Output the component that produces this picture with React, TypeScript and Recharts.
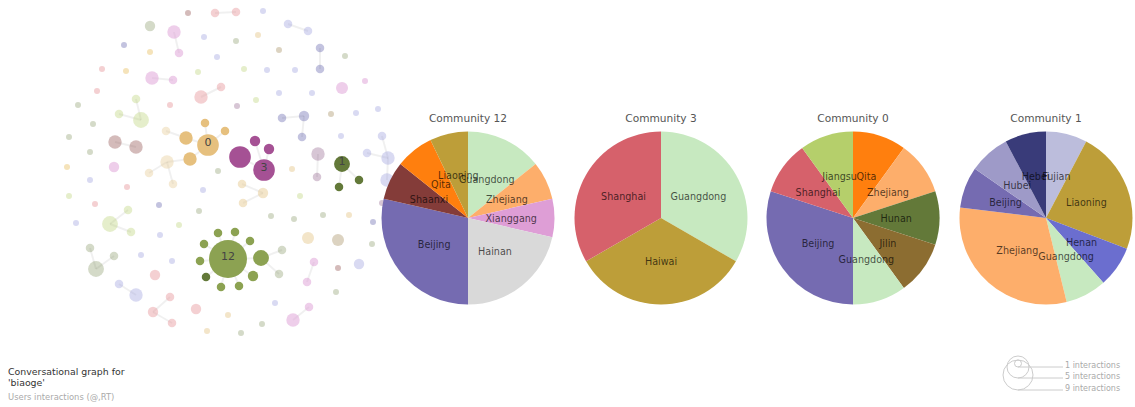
import React from "react"
import { ScatterChart, Scatter, XAxis, YAxis, ZAxis, PieChart, Pie, Cell } from "recharts"

const W = 1135
const H = 407
const FONT = "DejaVu Sans, Verdana, sans-serif"

// network layout: [id, x, y, interactions, group, label]
const nodeRows: [number, number, number, number, string, string?][] = [
  [1, 188, 13, 1, "rose"], [2, 215, 13, 2, "pink"], [3, 236, 12, 2, "pink"], [4, 263, 11, 1, "lavender"],
  [5, 150, 26, 3, "sage"], [6, 174, 32, 5, "lilac"], [7, 179, 53, 2, "lilac"], [8, 204, 37, 1, "lavender"],
  [9, 124, 45, 1, "grayblue"], [10, 150, 52, 1, "gold"], [11, 236, 41, 1, "sage"], [12, 258, 35, 1, "peach"],
  [13, 217, 57, 1, "lavender"], [14, 288, 24, 2, "lavender"], [15, 308, 31, 2, "lavender"], [16, 320, 48, 2, "grayblue"],
  [17, 320, 69, 2, "grayblue"], [18, 345, 56, 1, "sage"], [19, 279, 50, 1, "tan"], [20, 102, 69, 1, "pink"],
  [21, 126, 71, 1, "gold"], [22, 152, 78, 5, "lilac"], [23, 173, 80, 2, "lilac"], [24, 198, 72, 1, "cgreen"],
  [25, 244, 69, 1, "cgreen"], [26, 267, 70, 1, "lavender"], [27, 295, 70, 1, "lavender"], [28, 97, 91, 1, "pink"],
  [29, 201, 97, 5, "pink"], [30, 221, 87, 2, "pink"], [31, 342, 88, 4, "lilac"], [32, 365, 81, 1, "lilac"],
  [33, 78, 105, 1, "sage"], [34, 93, 124, 1, "sage"], [35, 136, 99, 2, "cgreen"], [36, 119, 114, 2, "cgreen"],
  [37, 141, 120, 7, "cgreen"], [38, 170, 105, 1, "pink"], [39, 237, 106, 1, "dlilac"], [40, 256, 100, 1, "cgreen"],
  [41, 279, 93, 1, "lavender"], [42, 312, 93, 1, "lavender"], [43, 282, 118, 2, "grayblue"], [44, 304, 116, 3, "grayblue"],
  [45, 302, 137, 2, "grayblue"], [46, 331, 114, 1, "tan"], [47, 356, 113, 1, "lavender"], [48, 378, 109, 1, "lavender"],
  [49, 69, 137, 1, "sage"], [50, 90, 152, 1, "sage"], [51, 115, 142, 5, "rose"], [52, 136, 147, 5, "rose"],
  [53, 166, 131, 2, "cream"], [54, 186, 138, 5, "c0"], [55, 205, 123, 2, "c0"], [56, 225, 131, 2, "c0"],
  [57, 208, 145, 13, "c0", "0"], [58, 190, 159, 5, "c0"], [59, 167, 162, 5, "cream"], [60, 149, 173, 2, "cream"],
  [61, 173, 184, 2, "cream"], [62, 218, 171, 1, "sage"], [63, 255, 141, 3, "c3"], [64, 269, 149, 3, "c3"],
  [65, 240, 157, 13, "c3"], [66, 264, 170, 13, "c3", "3"], [67, 292, 169, 1, "peach"], [68, 318, 154, 5, "dlilac"],
  [69, 317, 177, 2, "dlilac"], [70, 341, 136, 1, "lavender"], [71, 342, 164, 7, "c1", "1"], [72, 339, 187, 2, "c1"],
  [73, 359, 180, 2, "c1"], [74, 382, 136, 2, "lavender"], [75, 367, 153, 2, "lavender"], [76, 388, 158, 5, "lavender"],
  [77, 387, 180, 5, "lavender"], [78, 382, 203, 1, "dlilac"], [79, 373, 222, 1, "grayblue"], [80, 372, 244, 1, "sage"],
  [81, 67, 167, 1, "gold"], [82, 114, 167, 3, "lilac"], [83, 90, 180, 1, "lavender"], [84, 127, 187, 1, "pink"],
  [85, 69, 196, 1, "cgreen"], [86, 95, 204, 1, "pink"], [87, 76, 223, 1, "lavender"], [88, 159, 205, 1, "grayblue"],
  [89, 203, 190, 1, "lavender"], [90, 242, 184, 2, "peach"], [91, 263, 193, 3, "peach"], [92, 243, 203, 2, "peach"],
  [93, 199, 211, 1, "sage"], [94, 300, 196, 1, "cgreen"], [95, 271, 216, 1, "sage"], [96, 294, 219, 1, "sage"],
  [97, 323, 215, 1, "sage"], [98, 349, 215, 1, "peach"], [99, 128, 210, 2, "cgreen"], [100, 110, 224, 7, "cgreen"],
  [101, 131, 232, 2, "cgreen"], [102, 179, 225, 1, "cgreen"], [103, 160, 235, 1, "lavender"], [104, 308, 238, 4, "peach"],
  [105, 338, 240, 4, "tan"], [106, 90, 248, 2, "sage"], [107, 114, 256, 2, "sage"], [108, 96, 269, 7, "sage"],
  [109, 141, 255, 1, "lavender"], [110, 172, 261, 1, "lavender"], [111, 228, 259, 40, "c12", "12"],
  [112, 218, 233, 2, "c12"], [113, 235, 232, 2, "c12"], [114, 250, 241, 2, "c12"], [115, 204, 244, 2, "c12"],
  [116, 200, 261, 2, "c12"], [117, 206, 277, 2, "c12b"], [118, 221, 287, 2, "c12"], [119, 239, 286, 2, "c12"],
  [120, 253, 276, 3, "c12"], [121, 261, 258, 7, "c12"], [122, 282, 250, 2, "sage"], [123, 279, 274, 2, "sage"],
  [124, 359, 264, 3, "lavender"], [125, 314, 262, 2, "lilac"], [126, 307, 282, 2, "lilac"], [127, 338, 268, 1, "rose"],
  [128, 119, 284, 2, "lavender"], [129, 136, 295, 5, "lavender"], [130, 155, 275, 3, "pink"], [131, 170, 297, 2, "pink"],
  [132, 153, 312, 3, "pink"], [133, 172, 323, 2, "pink"], [134, 196, 309, 3, "pink"], [135, 275, 303, 1, "lavender"],
  [136, 336, 292, 1, "sage"], [137, 228, 315, 1, "peach"], [138, 207, 331, 1, "peach"], [139, 241, 333, 1, "sage"],
  [140, 262, 324, 1, "sage"], [141, 293, 320, 5, "lilac"], [142, 309, 307, 2, "lilac"],
]

const links: [number, number][] = [
  [2, 3], [6, 7], [14, 15], [16, 17], [22, 23], [29, 30], [35, 37], [36, 37], [43, 44], [44, 45],
  [51, 52], [53, 54], [54, 57], [55, 57], [56, 57], [58, 57], [59, 58], [59, 60], [59, 61],
  [63, 66], [64, 66], [65, 66], [68, 69], [71, 72], [71, 73], [75, 76], [74, 76], [76, 77],
  [90, 91], [92, 91], [99, 100], [101, 100], [106, 108], [107, 108],
  [112, 111], [113, 111], [114, 111], [115, 111], [116, 111], [117, 111], [118, 111], [119, 111], [120, 111], [121, 111],
  [121, 122], [121, 123], [125, 126], [128, 129], [131, 132], [133, 132], [141, 142],
]

const community12 = [
  { name: "Guangdong", value: 2 }, { name: "Zhejiang", value: 1 }, { name: "Xianggang", value: 1 },
  { name: "Hainan", value: 3 }, { name: "Beijing", value: 4 }, { name: "Shaanxi", value: 1 },
  { name: "Qita", value: 1 }, { name: "Liaoning", value: 1 },
]
const community3 = [
  { name: "Guangdong", value: 1 }, { name: "Haiwai", value: 1 }, { name: "Shanghai", value: 1 },
]
const community0 = [
  { name: "Qita", value: 1 }, { name: "Zhejiang", value: 1 }, { name: "Hunan", value: 1 },
  { name: "Jilin", value: 1 }, { name: "Guangdong", value: 1 }, { name: "Beijing", value: 3 },
  { name: "Shanghai", value: 1 }, { name: "Jiangsu", value: 1 },
]
const community1 = [
  { name: "Fujian", value: 1 }, { name: "Liaoning", value: 3 }, { name: "Henan", value: 1 },
  { name: "Guangdong", value: 1 }, { name: "Zhejiang", value: 4 }, { name: "Beijing", value: 1 },
  { name: "Hubei", value: 1 }, { name: "Hebei", value: 1 },
]

const legendSizes = [1, 5, 9]

const PROVINCE_COLORS: Record<string, string> = {
  Guangdong: "#c7e9c0", Zhejiang: "#fdae6b", Xianggang: "#de9ed6", Hainan: "#d9d9d9",
  Beijing: "#756bb1", Shaanxi: "#843c39", Qita: "#ff7f0e", Liaoning: "#bd9e39",
  Haiwai: "#bd9e39", Shanghai: "#d6616b", Jiangsu: "#b5cf6b", Hunan: "#637939",
  Jilin: "#8c6d31", Fujian: "#bcbddc", Henan: "#6b6ecf", Hubei: "#9e9ac8", Hebei: "#393b79",
}

const GROUP_STYLE: Record<string, { fill: string; opacity: number }> = {
  pink: { fill: "#e7969c", opacity: 0.45 },
  lilac: { fill: "#de9ed6", opacity: 0.5 },
  lavender: { fill: "#9c9ede", opacity: 0.38 },
  sage: { fill: "#637939", opacity: 0.28 },
  tan: { fill: "#8c6d31", opacity: 0.3 },
  gold: { fill: "#e7ba52", opacity: 0.4 },
  peach: { fill: "#e7cb94", opacity: 0.5 },
  grayblue: { fill: "#5254a3", opacity: 0.35 },
  rose: { fill: "#843c39", opacity: 0.35 },
  cgreen: { fill: "#b5cf6b", opacity: 0.35 },
  cream: { fill: "#e7cb94", opacity: 0.4 },
  dlilac: { fill: "#7b4173", opacity: 0.3 },
  c0: { fill: "#e6c07e", opacity: 1 },
  c3: { fill: "#a55194", opacity: 1 },
  c1: { fill: "#637939", opacity: 1 },
  c12: { fill: "#8ca252", opacity: 1 },
  c12b: { fill: "#637939", opacity: 1 },
}

const nodes = nodeRows.map(([id, x, y, w, g, label]) => ({ id, x, y, w, g, label }))
const byId = new Map(nodes.map((n) => [n.id, n]))
const linkData = links.map(([a, b]) => [byId.get(a)!, byId.get(b)!])

const PIES = [
  { title: "Community 12", data: community12, cx: 468 },
  { title: "Community 3", data: community3, cx: 661 },
  { title: "Community 0", data: community0, cx: 853 },
  { title: "Community 1", data: community1, cx: 1046 },
]
const PIE_CY = 218
const PIE_R = 86.5

const NodeShape = (props: any) => {
  const p = props.payload || props
  const st = GROUP_STYLE[p.g] || GROUP_STYLE.lavender
  const r = (props.width ?? 6) / 2
  return (
    <g>
      <circle cx={props.cx} cy={props.cy} r={r} fill={st.fill} fillOpacity={st.opacity} />
      {p.label && (
        <text x={props.cx} y={props.cy + 1} textAnchor="middle" fontSize={11} fontFamily={FONT} fill="#444">
          {p.label}
        </text>
      )}
    </g>
  )
}

const RAD = Math.PI / 180
const renderPieLabel = (p: any) => {
  const r = p.outerRadius * 0.5
  const x = p.cx + r * Math.cos(-p.midAngle * RAD)
  const y = p.cy + r * Math.sin(-p.midAngle * RAD)
  const name = p.name ?? p.payload?.name
  return (
    <text x={x} y={y} textAnchor="middle" dominantBaseline="central" fontSize={9.6} fontFamily={FONT} fill="#000" fillOpacity={0.68}>
      {name}
    </text>
  )
}

export default function App() {
  return (
    <div style={{ position: "absolute", left: 0, top: 0, width: W, height: H, background: "#fff", overflow: "hidden" }}>
      {/* network */}
      <div style={{ position: "absolute", left: 0, top: 0 }}>
        <ScatterChart width={W} height={H} margin={{ top: 0, right: 0, bottom: 0, left: 0 }}>
          <XAxis type="number" dataKey="x" domain={[0, W]} hide />
          <YAxis type="number" dataKey="y" domain={[0, H]} reversed hide />
          <ZAxis type="number" dataKey="w" domain={[1, 40]} range={[9 * Math.PI, 360 * Math.PI]} />
          {linkData.map((d, i) => (
            <Scatter
              key={`l${i}`}
              data={d}
              line={{ stroke: "#000", strokeOpacity: 0.06, strokeWidth: 2 }}
              shape={() => <g />}
              isAnimationActive={false}
            />
          ))}
          <Scatter data={nodes} shape={NodeShape} isAnimationActive={false} />
        </ScatterChart>
      </div>

      {/* community pies */}
      <div style={{ position: "absolute", left: 0, top: 0 }}>
        <PieChart width={W} height={H} margin={{ top: 0, right: 0, bottom: 0, left: 0 }}>
          {PIES.map((pie) => (
            <Pie
              key={pie.title}
              data={pie.data}
              dataKey="value"
              nameKey="name"
              cx={pie.cx}
              cy={PIE_CY}
              outerRadius={PIE_R}
              startAngle={90}
              endAngle={-270}
              stroke="none"
              labelLine={false}
              label={renderPieLabel}
              isAnimationActive={false}
            >
              {pie.data.map((d, i) => (
                <Cell key={i} fill={PROVINCE_COLORS[d.name]} />
              ))}
            </Pie>
          ))}
        </PieChart>
      </div>

      {/* titles, caption and size legend */}
      <svg width={W} height={H} style={{ position: "absolute", left: 0, top: 0, pointerEvents: "none" }}>
        {PIES.map((pie) => (
          <text key={pie.title} x={pie.cx} y={118} textAnchor="middle" dominantBaseline="central" fontSize={10.6} fontFamily={FONT} fill="#555">
            {pie.title}
          </text>
        ))}
        <text x={8} y={371} dominantBaseline="central" fontSize={9.4} fontFamily={FONT} fill="#333">Conversational graph for</text>
        <text x={8} y={382} dominantBaseline="central" fontSize={9.4} fontFamily={FONT} fill="#333">'biaoge'</text>
        <text x={8} y={397} dominantBaseline="central" fontSize={8.4} fontFamily={FONT} fill="#aaa">Users interactions (@,RT)</text>
        {legendSizes.map((s, i) => {
          const r = [3.5, 11, 15][i]
          const bottom = [367, 378, 390][i]
          return (
            <g key={s}>
              <circle cx={1018} cy={bottom - r} r={r} fill="none" stroke="#ccc" strokeWidth={1} />
              <line x1={1018} x2={1063} y1={bottom} y2={bottom} stroke="#ccc" strokeWidth={1} />
              <text x={1065} y={bottom - 1.5} dominantBaseline="central" fontSize={8} fontFamily={FONT} fill="#aaa">
                {s} interactions
              </text>
            </g>
          )
        })}
      </svg>
    </div>
  )
}
